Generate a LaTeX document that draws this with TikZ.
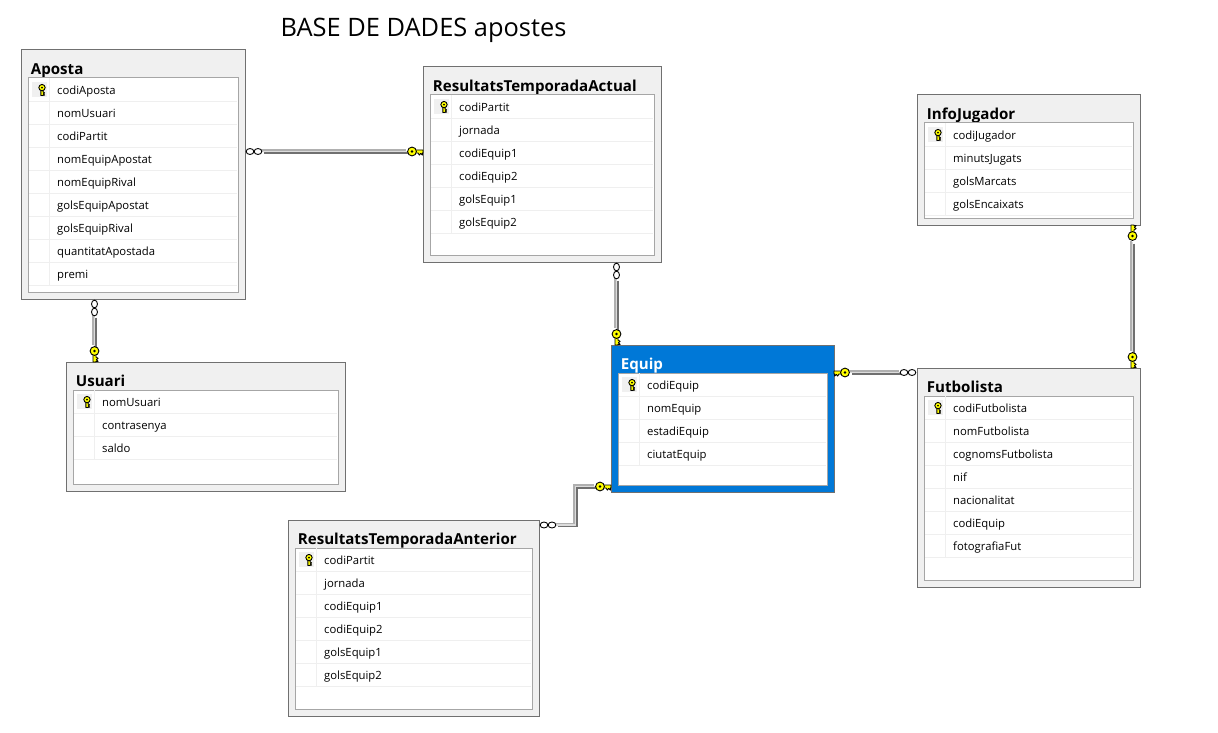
\documentclass[tikz,border=0pt]{standalone}
\usepackage{fontspec}
\setmainfont{Open Sans}
\usetikzlibrary{calc}
\definecolor{panel}{HTML}{F0F0F0}
\definecolor{edgegray}{HTML}{707070}
\definecolor{innergray}{HTML}{A6A6A6}
\definecolor{rowline}{HTML}{EFEFEF}
\definecolor{selblue}{HTML}{0078D7}
\definecolor{keyyellow}{HTML}{FFFF00}
\definecolor{connhi}{HTML}{B0B0B0}
\definecolor{connmidc}{HTML}{DCDCDC}
\tikzset{
  x=1pt,y=-1pt,
  tablebox/.style={draw=edgegray,fill=panel,line width=1pt,inner sep=0pt,outer sep=0pt},
  selbox/.style={draw=edgegray,fill=selblue,line width=1pt,inner sep=0pt,outer sep=0pt},
  tableboxtitle/.style={anchor=base west,inner sep=0pt,font=\fontsize{15.1}{16}\selectfont\bfseries,text=black},
  selboxtitle/.style={anchor=base west,inner sep=0pt,font=\fontsize{15.1}{16}\selectfont\bfseries,text=white},
  innerbox/.style={draw=innergray,fill=white,line width=1pt},
  rowrule/.style={draw=rowline,line width=0.9pt},
  rowtext/.style={anchor=base west,inner sep=0pt,font=\fontsize{11.3}{13}\selectfont,text=black},
  maintitle/.style={anchor=base west,inner sep=0pt,font=\fontsize{25.4}{28}\selectfont,text=black},
  connlight/.style={draw=connhi,line width=1.7pt,transform canvas={shift={(-1.5pt,1.5pt)}}},
  connmid/.style={draw=connmidc,line width=1.7pt},
  conndark/.style={draw=edgegray,line width=1.7pt,transform canvas={shift={(1.5pt,-1.5pt)}}},
  keybody/.style={draw=black,fill=keyyellow,line width=0.9pt,line join=round},
}
\newcommand{\keyshape}{%
  \draw[keybody] (-7.5,-1.5) -- (0,-1.5) -- (0,1.5) -- (-0.6,1.5) -- (-0.6,3.6) -- (-2.4,2) -- (-3.6,3.6) -- (-5,1.5) -- (-7.5,1.5) -- cycle;
  \draw[keybody] (-11,0) circle (4.4);
  \fill[black] (-11,0) circle (1.3);
}
\newcommand{\fkend}[2]{\begin{scope}[shift={(#1)},#2]\keyshape\end{scope}}
\newcommand{\manyend}[2]{\begin{scope}[shift={(#1)},rotate=#2]
  \draw[black,fill=white,line width=0.9pt] (5,0) ellipse [x radius=3.8,y radius=3];
  \draw[black,fill=white,line width=0.9pt] (13,0) ellipse [x radius=3.8,y radius=3];
\end{scope}}
\newcommand{\conn}[3]{%
  \draw[connlight,shorten <=#1pt,shorten >=#2pt] #3;
  \draw[connmid,shorten <=#1pt,shorten >=#2pt] #3;
  \draw[conndark,shorten <=#1pt,shorten >=#2pt] #3;
}
\newcommand{\erd}[8][tablebox]{%
  \pgfmathsetmacro\W{#5-#3}\pgfmathsetmacro\H{#6-#4}%
  \pgfmathsetmacro\CX{(#3+#5)/2}\pgfmathsetmacro\CY{(#4+#6)/2}%
  \node[#1,minimum width=\W pt,minimum height=\H pt] (#2) at (\CX,\CY) {};
  \node[#1title] (#2-title) at (#3+9.7,#4+24.4) {#7};
  \draw[innerbox] (#3+7,#4+28) rectangle (#5-7,#6-7);
  \fill[panel] (#3+11,#4+32) rectangle (#3+26,#4+47);
  \foreach \t [count=\i] in {#8}{%
    \pgfmathsetmacro\YL{#4+28+23*\i}%
    \pgfmathsetmacro\YT{#4+44.6+23*(\i-1)}%
    \draw[rowrule] (#3+8,\YL) -- (#5-8,\YL);
    \draw[rowrule] (#3+28,\YL-23) -- (#3+28,\YL);
    \node[rowtext] (#2-row\i) at (#3+36,\YT) {\t};
  }
  \begin{scope}[shift={(#3+21,#4+45.5)},rotate=-90,yscale=-1,scale=0.72]\keyshape\end{scope}
}
\begin{document}
\begin{tikzpicture}
\useasboundingbox (0,0) rectangle (1218,733);
\fill[white] (0,0) rectangle (1218,733);
\node[maintitle] (pagetitle) at (280.5,37) {BASE DE DADES apostes};

\erd{aposta}{21}{50}{245}{299}{Aposta}{codiAposta,nomUsuari,codiPartit,nomEquipApostat,nomEquipRival,golsEquipApostat,golsEquipRival,quantitatApostada,premi}
\erd{actual}{423}{67}{661}{262}{ResultatsTemporadaActual}{codiPartit,jornada,codiEquip1,codiEquip2,golsEquip1,golsEquip2}
\erd{info}{917}{95}{1140}{225}{InfoJugador}{codiJugador,minutsJugats,golsMarcats,golsEncaixats}
\erd{usuari}{66}{362}{345}{491}{Usuari}{nomUsuari,contrasenya,saldo}
\erd[selbox]{equip}{611}{345}{834}{492}{Equip}{codiEquip,nomEquip,estadiEquip,ciutatEquip}
\erd{futbolista}{917}{368}{1140}{587}{Futbolista}{codiFutbolista,nomFutbolista,cognomsFutbolista,nif,nacionalitat,codiEquip,fotografiaFut}
\erd{anterior}{288}{520}{539}{716}{ResultatsTemporadaAnterior}{codiPartit,jornada,codiEquip1,codiEquip2,golsEquip1,golsEquip2}

\coordinate (a1) at (aposta.east |- 0,151.5);
\coordinate (b1) at (actual.west |- 0,151.5);
\conn{17}{16}{(a1) -- (b1)}
\manyend{a1}{0}
\fkend{b1}{}

\coordinate (a2) at (94.5,0 |- aposta.south);
\coordinate (b2) at (94.5,0 |- usuari.north);
\conn{17}{16}{(a2) -- (b2)}
\manyend{a2}{-90}
\fkend{b2}{rotate=-90,yscale=-1}

\coordinate (a3) at (616.5,0 |- actual.south);
\coordinate (b3) at (616.5,0 |- equip.north);
\conn{17}{16}{(a3) -- (b3)}
\manyend{a3}{-90}
\fkend{b3}{rotate=-90,yscale=-1}

\coordinate (a4) at (futbolista.west |- 0,372.5);
\coordinate (b4) at (equip.east |- 0,372.5);
\conn{17}{16}{(a4) -- (b4)}
\manyend{a4}{180}
\fkend{b4}{rotate=180,yscale=-1}

\coordinate (a5) at (anterior.east |- 0,525);
\coordinate (b5) at (equip.west |- 0,486.5);
\coordinate (m5) at (575.5,0);
\conn{17}{16}{(a5) -- (a5 -| m5) -- (b5 -| m5) -- (b5)}
\manyend{a5}{0}
\fkend{b5}{}

\coordinate (a6) at (1132.5,0 |- info.south);
\coordinate (b6) at (1132.5,0 |- futbolista.north);
\conn{17}{16}{(a6) -- (b6)}
\fkend{a6}{rotate=90}
\fkend{b6}{rotate=-90,yscale=-1}
\end{tikzpicture}
\end{document}
